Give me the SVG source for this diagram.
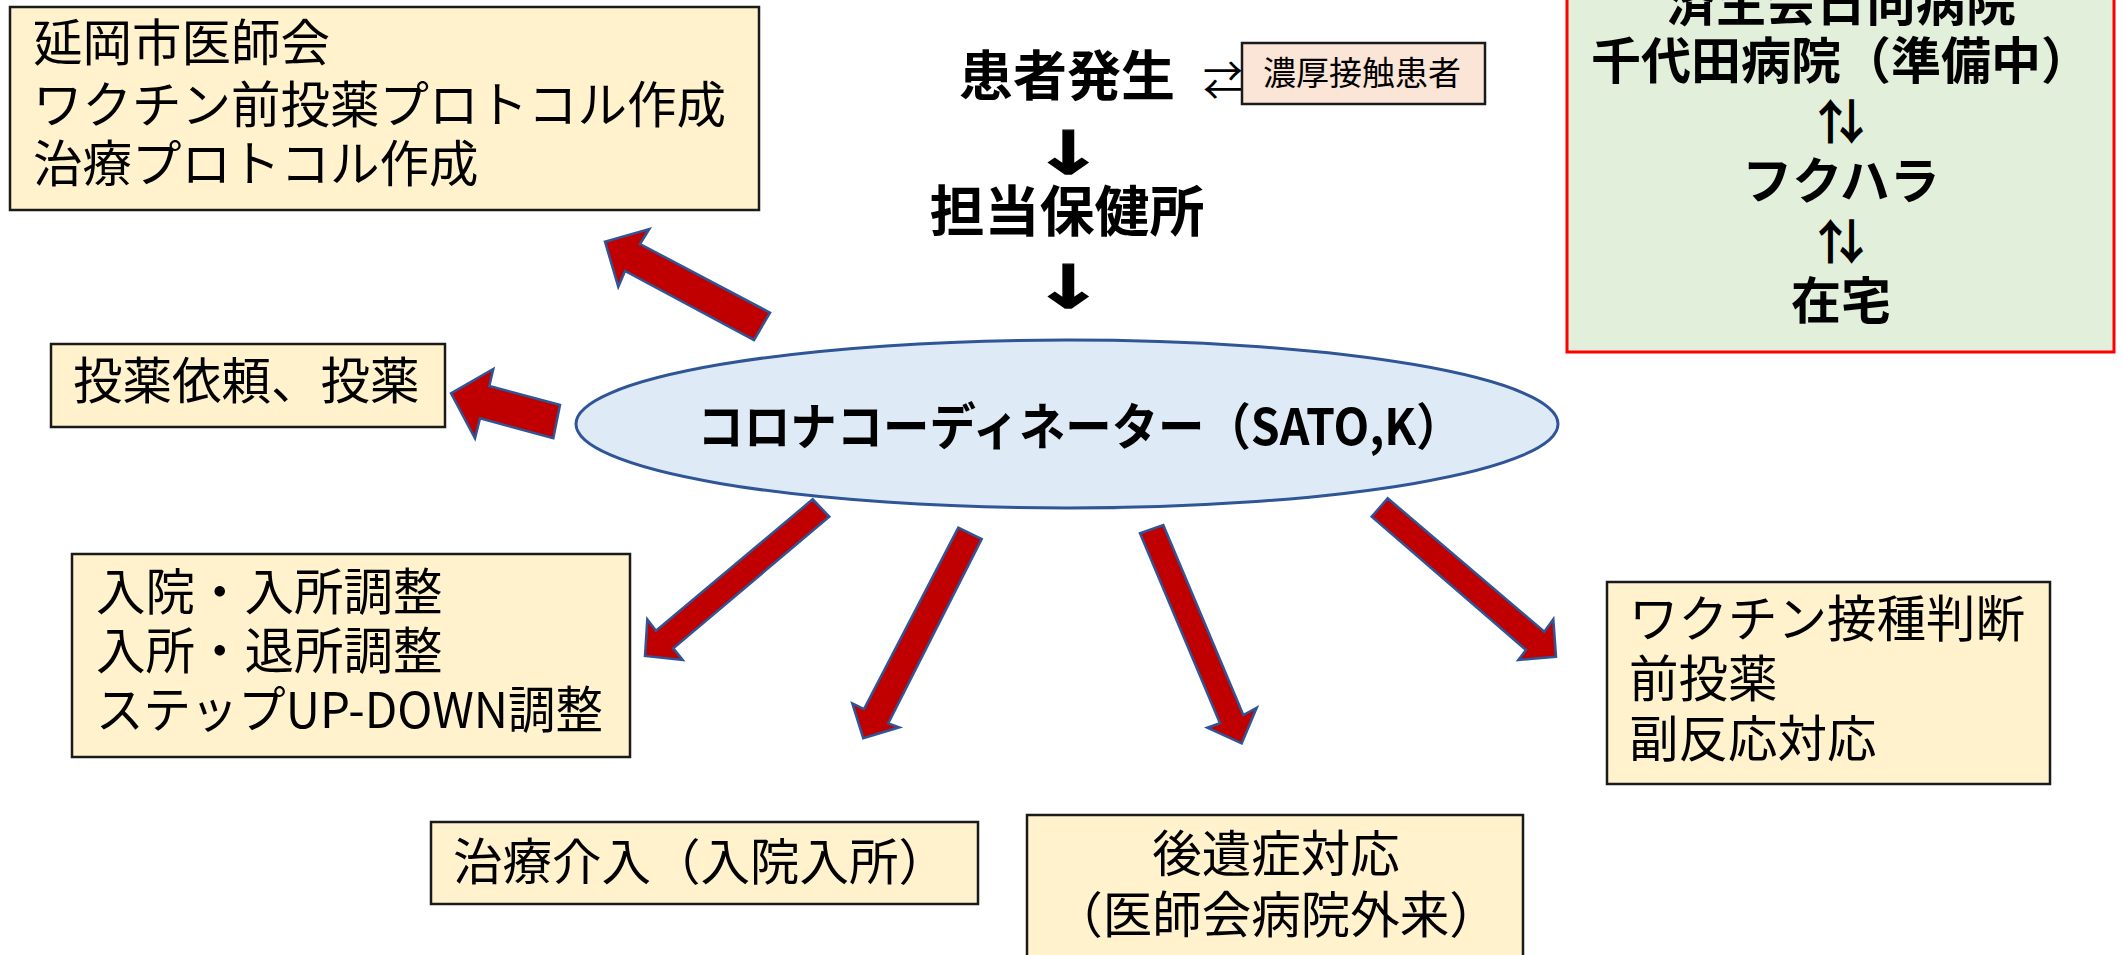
<svg xmlns="http://www.w3.org/2000/svg" width="2123" height="955" viewBox="0 0 2123 955">
<style>
.box{fill:#FFF2CC;stroke:#1a1a1a;stroke-width:2.5}
.t{font-family:"Noto Sans CJK JP","Noto Sans CJK SC",sans-serif;font-size:49.5px;fill:#000}
.s{font-family:"Noto Sans CJK JP","Noto Sans CJK SC",sans-serif;font-size:33px;fill:#000}
.b{font-family:"Noto Sans CJK JP","Noto Sans CJK SC","DejaVu Sans",sans-serif;font-weight:bold;fill:#000}
.ar{font-family:"DejaVu Sans",sans-serif;font-weight:bold;font-size:60px;fill:#000;stroke:#000;stroke-width:1.2}
.arr{fill:#C00000;stroke:#2F5597;stroke-width:2.5;stroke-linejoin:miter}
</style>
<rect width="2123" height="955" fill="#fff"/>

<g id="ishikai">
<rect class="box" x="10" y="7" width="749" height="203"/>
<text class="t" x="33" y="61">延岡市医師会</text>
<text class="t" x="33" y="123">ワクチン前投薬プロトコル作成</text>
<text class="t" x="33" y="182">治療プロトコル作成</text>
</g>

<g id="touyaku">
<rect class="box" x="51" y="344" width="394" height="83"/>
<text class="t" x="73" y="399">投薬依頼、投薬</text>
</g>

<g id="nyuin">
<rect class="box" x="72" y="554" width="558" height="203"/>
<text class="t" x="96" y="610">入院・入所調整</text>
<text class="t" x="96" y="669">入所・退所調整</text>
<text class="t" x="96" y="728" textLength="507" lengthAdjust="spacingAndGlyphs">ステップUP-DOWN調整</text>
</g>

<g id="chiryo">
<rect class="box" x="431" y="822" width="547" height="82"/>
<text class="t" x="453" y="880">治療介入（入院入所）</text>
</g>

<g id="kouisho">
<rect class="box" x="1027" y="815" width="496" height="160"/>
<text class="t" x="1276" y="872" text-anchor="middle">後遺症対応</text>
<text class="t" x="1276" y="933" text-anchor="middle">（医師会病院外来）</text>
</g>

<g id="vaccine">
<rect class="box" x="1607" y="582" width="443" height="202"/>
<text class="t" x="1629" y="637">ワクチン接種判断</text>
<text class="t" x="1629" y="697">前投薬</text>
<text class="t" x="1629" y="757">副反応対応</text>
</g>

<g id="flow">
<text class="b" x="1067" y="96" font-size="54" text-anchor="middle">患者発生</text>
<text class="ar" transform="translate(1068,174) scale(1.45,1)" text-anchor="middle">↓</text>
<text class="b" x="1067" y="231" font-size="55" text-anchor="middle">担当保健所</text>
<text class="ar" transform="translate(1068,308) scale(1.45,1)" text-anchor="middle">↓</text>
<text class="s" x="1223" y="95" style="font-size:40px" text-anchor="middle">⇄</text>
</g>

<g id="noukou">
<rect x="1242" y="43" width="243" height="61" fill="#FBE5D6" stroke="#1a1a1a" stroke-width="2.5"/>
<text class="s" x="1362" y="85" text-anchor="middle">濃厚接触患者</text>
</g>

<g id="byoin">
<rect x="1567" y="-10" width="547" height="362" fill="#E2EFDA" stroke="#FF0000" stroke-width="3"/>
<text class="b" x="1841" y="21" font-size="50" text-anchor="middle">済生会日向病院</text>
<text class="b" x="1841" y="79" font-size="50" text-anchor="middle">千代田病院（準備中）</text>
<text class="b" x="1841" y="139" font-size="48" text-anchor="middle">⇅</text>
<text class="b" x="1841" y="199" font-size="50" text-anchor="middle">フクハラ</text>
<text class="b" x="1841" y="259" font-size="48" text-anchor="middle">⇅</text>
<text class="b" x="1841" y="319" font-size="50" text-anchor="middle">在宅</text>
</g>

<g id="coordinator">
<ellipse cx="1067" cy="424" rx="491" ry="84" fill="#DEEBF7" stroke="#2F5597" stroke-width="3"/>
<text class="b" x="1080" y="445" font-size="50" text-anchor="middle" textLength="765" lengthAdjust="spacingAndGlyphs">コロナコーディネーター（SATO,K）</text>
</g>

<g id="connectors">
<polygon class="arr" points="605,241.7 649.3,229 640,244 770,312.7 754,340 625,271 618.3,286.7"/>
<polygon class="arr" points="451,393.3 493.3,369 489.3,386 560,405 553.3,438.3 480,418.3 475,438.3"/>
<polygon class="arr" points="645,656 647.3,619.3 656,630.7 812.7,499.3 829.3,516.7 673.3,648.3 682.7,660"/>
<polygon class="arr" points="863.3,738.3 852.3,703.3 864,709 958.3,527.7 981.7,539 888.3,723.3 899.3,727.3"/>
<polygon class="arr" points="1241.7,743.3 1207.3,727.7 1220,723.3 1140,533.3 1163.3,525 1243.3,715 1256.7,707.7"/>
<polygon class="arr" points="1556,656.7 1518.3,660 1526,650 1371.7,516.7 1387.7,498.3 1544.3,631.7 1553.3,619.3"/>
</g>
</svg>
